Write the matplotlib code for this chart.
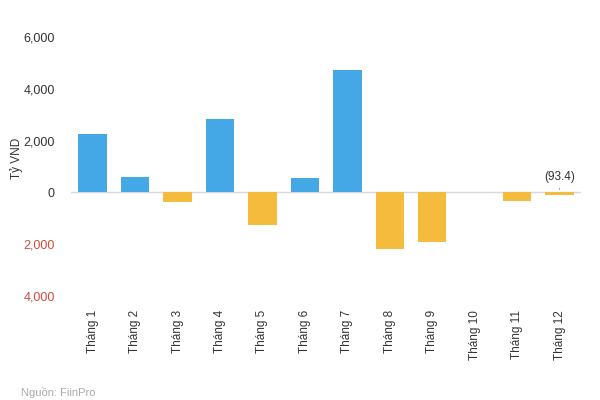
import numpy as np
import matplotlib.pyplot as plt
from matplotlib.ticker import FuncFormatter

plt.rcParams['font.family'] = ['Liberation Sans', 'DejaVu Sans']

# Monthly net values (ty VND)
months = ["Tháng %d" % i for i in range(1, 13)]
values = [2250, 585, -370, 2820, -1240, 560, 4730, -2190, -1930, 15, -350, -93.4]
yticks = [-4000, -2000, 0, 2000, 4000, 6000]

BLUE = '#44a7e6'
YELLOW = '#f5bb3c'
RED = '#cf4a3c'
TEXT = '#333333'

fig = plt.figure(figsize=(6, 4), dpi=100)
ax = fig.add_axes([0.119, 0.26, 0.849, 0.6475])

x = np.arange(len(months))
bar_colors = [BLUE if v >= 0 else YELLOW for v in values]
bar_colors[9] = '#c9c9c9'
ax.bar(x, values, width=0.67, color=bar_colors, zorder=2)
ax.axhline(0, color='#d8d8d8', linewidth=1, zorder=1)

ax.set_xlim(-0.5, len(months) - 0.5)
ax.set_ylim(-4000, 6000)
ax.set_yticks(yticks)
ax.yaxis.set_major_formatter(FuncFormatter(lambda v, p: f"{abs(v):,.0f}"))
for lab, t in zip(ax.get_yticklabels(), yticks):
    lab.set_color(RED if t < 0 else TEXT)
ax.set_xticks(x)
ax.set_xticklabels(months, rotation=90, fontsize=8.5, color=TEXT)
ax.tick_params(axis='y', labelsize=9, length=0, pad=12)
ax.tick_params(axis='x', length=0, pad=10)
for s in ax.spines.values():
    s.set_visible(False)

# label on the last bar
ax.annotate(f"({abs(values[-1]):.1f})", xy=(x[-1], 0), xytext=(x[-1], 380),
            ha='center', va='bottom', fontsize=8.5, color=TEXT,
            arrowprops=dict(arrowstyle='-', color='#999999', lw=0.6))

fig.text(0.027, 0.605, "Tỷ VND", rotation=90, ha='center', va='center',
         fontsize=8.5, color=TEXT)
fig.text(0.035, 0.006, "Nguồn: FiinPro", fontsize=8, color='#aaaaaa', va='bottom')

fig.savefig("out.png", dpi=100)
